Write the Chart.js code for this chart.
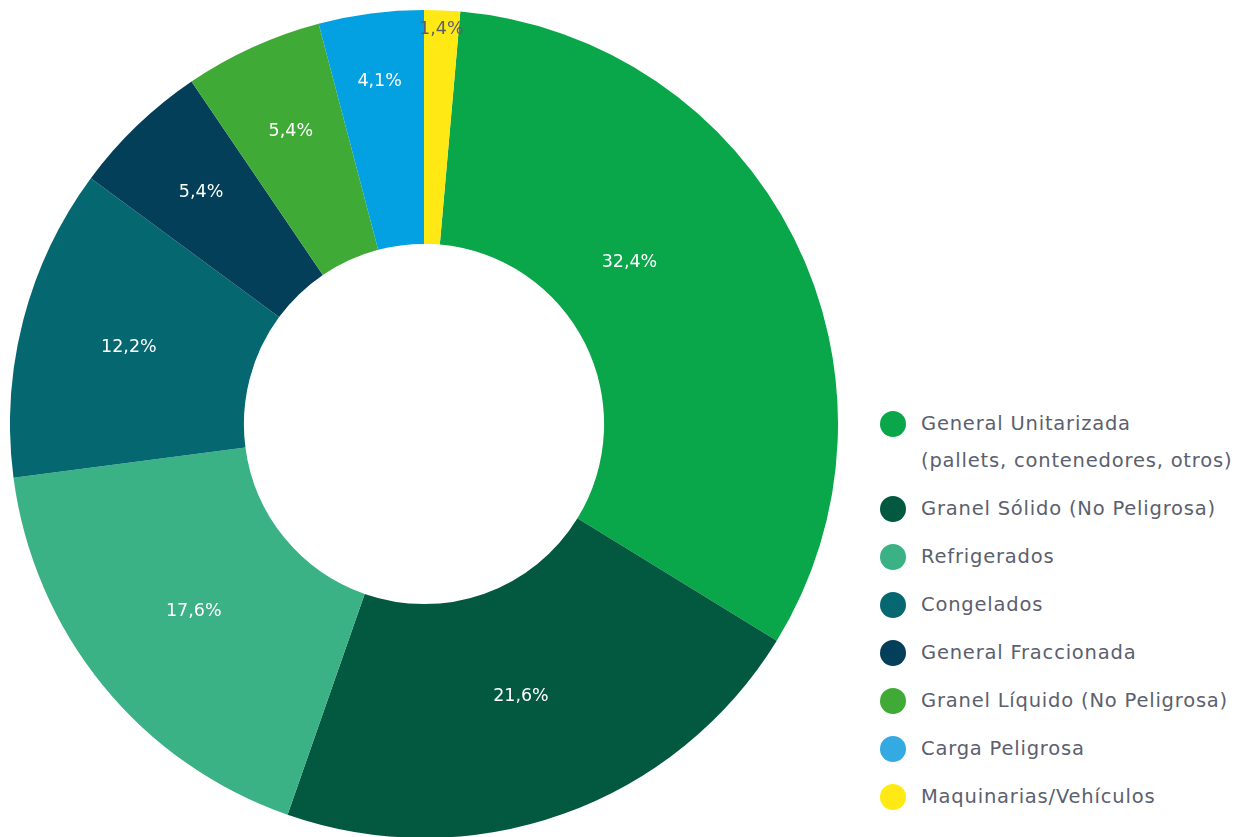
<!DOCTYPE html>
<html>
<head>
<meta charset="utf-8">
<script src="https://cdn.jsdelivr.net/npm/chart.js@4.4.1/dist/chart.umd.min.js"></script>
<style>
  html, body { margin: 0; padding: 0; background: #fff; overflow: hidden; }
  body { width: 1239px; height: 837px; position: relative; font-family: "DejaVu Sans", sans-serif; }
  #wrap { position: absolute; left: 10px; top: 10px; width: 828px; height: 828px; }
  #legend { position: absolute; left: 880px; top: 405px; margin: 0; padding: 0; list-style: none; }
  #legend li { position: relative; padding-left: 41px; font-size: 19.5px; letter-spacing: 0.8px; color: #5b606e; line-height: 37px; margin-bottom: 11px; white-space: nowrap; }
  #legend li span.dot { position: absolute; left: 0; top: 6px; width: 26px; height: 26px; border-radius: 50%; }
</style>
</head>
<body>
<div id="wrap"><canvas id="myChart"></canvas></div>
<ul id="legend"></ul>
<script>
// datos
var categorias = [
    ["General Unitarizada", "(pallets, contenedores, otros)"],
    ["Granel Sólido (No Peligrosa)"],
    ["Refrigerados"],
    ["Congelados"],
    ["General Fraccionada"],
    ["Granel Líquido (No Peligrosa)"],
    ["Carga Peligrosa"],
    ["Maquinarias/Vehículos"]
];
var porcentajes = [32.4, 21.6, 17.6, 12.2, 5.4, 5.4, 4.1, 1.4];
var colores = ['#0aa64a', '#03593f', '#3bb186', '#056871', '#033f58', '#3faa36', '#03a1e2', '#ffe914'];
var coloresLeyenda = ['#0aa64a', '#03593f', '#3bb186', '#056871', '#033f58', '#3faa36', '#35a9e1', '#ffe914'];
var colorEtiqueta = ['#fff', '#fff', '#fff', '#fff', '#fff', '#fff', '#fff', '#5b606e'];

var total = porcentajes.reduce(function(a, b){ return a + b; }, 0);
// la porcion amarilla (ultima) arranca en las 12, asi que se gira el inicio
var giro = porcentajes[porcentajes.length - 1] / total * 360;

// etiquetas de porcentaje dentro de cada porcion
var etiquetas = {
    id: 'etiquetas',
    afterDatasetsDraw: function(chart){
        var ctx = chart.ctx;
        var meta = chart.getDatasetMeta(0);
        ctx.save();
        ctx.font = '17.5px "DejaVu Sans", sans-serif';
        ctx.textAlign = 'center';
        ctx.textBaseline = 'middle';
        meta.data.forEach(function(arc, i){
            var p = arc.getProps(['x', 'y', 'startAngle', 'endAngle', 'innerRadius', 'outerRadius']);
            var mid = (p.startAngle + p.endAngle) / 2;
            var half = (p.endAngle - p.startAngle) / 2;
            var R = p.outerRadius, r = p.innerRadius;
            // centroide del sector anular
            var rc = (2 / 3) * (R*R*R - r*r*r) / (R*R - r*r) * Math.sin(half) / half;
            if (porcentajes[i] < 6) rc += (6 - porcentajes[i]) * 18;
            if (rc > R - 18) rc = R - 18;
            // la porcion grande lleva la etiqueta un poco antes del medio
            if (half > 0.9) mid -= 0.2;
            ctx.fillStyle = colorEtiqueta[i];
            ctx.fillText(porcentajes[i].toFixed(1).replace('.', ',') + '%', p.x + Math.cos(mid) * rc, p.y + Math.sin(mid) * rc);
        });
        ctx.restore();
    }
};

function grafico(){
    const ctx = document.getElementById('myChart').getContext('2d');
    const myChart = new Chart(ctx, {
        type: 'doughnut',
        data: {
            labels: categorias.map(function(c){ return c.join(' '); }),
            datasets: [{
                data: porcentajes,
                backgroundColor: colores,
                borderWidth: 0
            }]
        },
        options: {
            responsive: true,
            maintainAspectRatio: false,
            animation: false,
            cutout: '43.5%',
            rotation: giro,
            layout: { padding: 0 },
            plugins: {
                legend: { display: false },
                tooltip: { enabled: false }
            }
        },
        plugins: [etiquetas]
    });
}
grafico();

// leyenda
var ul = document.getElementById('legend');
categorias.forEach(function(c, i){
    var li = document.createElement('li');
    li.innerHTML = '<span class="dot" style="background:' + coloresLeyenda[i] + '"></span>' + c.join('<br>');
    ul.appendChild(li);
});
</script>
</body>
</html>
